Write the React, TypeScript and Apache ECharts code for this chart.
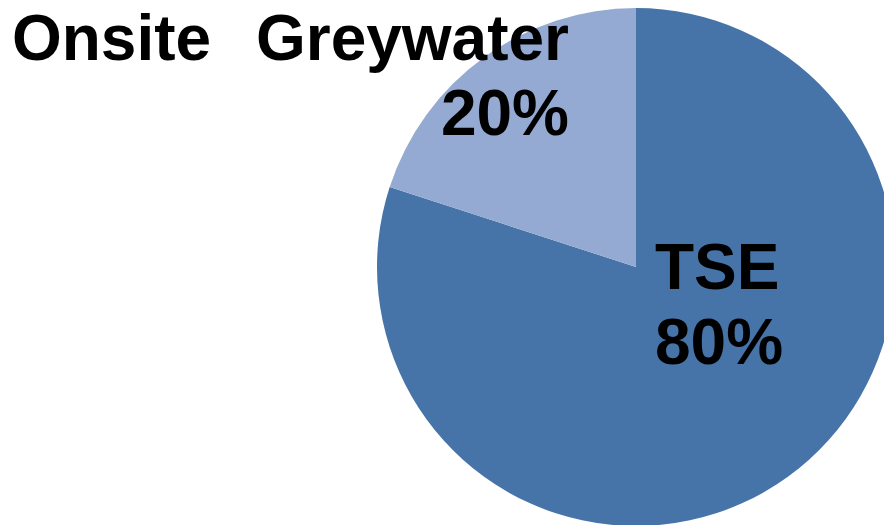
import React, { useEffect, useRef } from "react";
import * as echarts from "echarts";

// Share of reuse water supply by source
const sources = ["TSE", "Onsite\u2002\u2009Greywater"];
const shares = [80, 20];
const sliceColors = ["#4674A8", "#95AAD2"];

export default function App() {
  const ref = useRef<HTMLDivElement>(null);

  useEffect(() => {
    if (!ref.current) return;
    const chart = echarts.init(ref.current, undefined, { renderer: "svg" });
    chart.setOption({
      animation: false,
      backgroundColor: "#ffffff",
      series: [
        {
          type: "pie",
          center: [636, 267],
          radius: 259,
          startAngle: 90,
          clockwise: true,
          silent: true,
          data: sources.map((name, i) => ({
            name,
            value: shares[i],
            itemStyle: { color: sliceColors[i] },
          })),
          label: {
            show: true,
            position: "inside",
            formatter: "{b}\n{d}%",
            color: "#000000",
            fontFamily: "Liberation Sans, Arial, sans-serif",
            fontWeight: "bold",
            fontSize: 64,
            lineHeight: 75,
          },
          labelLine: { show: false },
          labelLayout: (params: any) =>
            params.dataIndex === 0
              ? { x: 655, y: 304, align: "left", verticalAlign: "middle" }
              : { x: 569, y: 75, align: "right", verticalAlign: "middle" },
        },
      ],
    });
    return () => chart.dispose();
  }, []);

  return (
    <div
      ref={ref}
      style={{ position: "fixed", left: 0, top: 0, width: 884, height: 525 }}
    />
  );
}
